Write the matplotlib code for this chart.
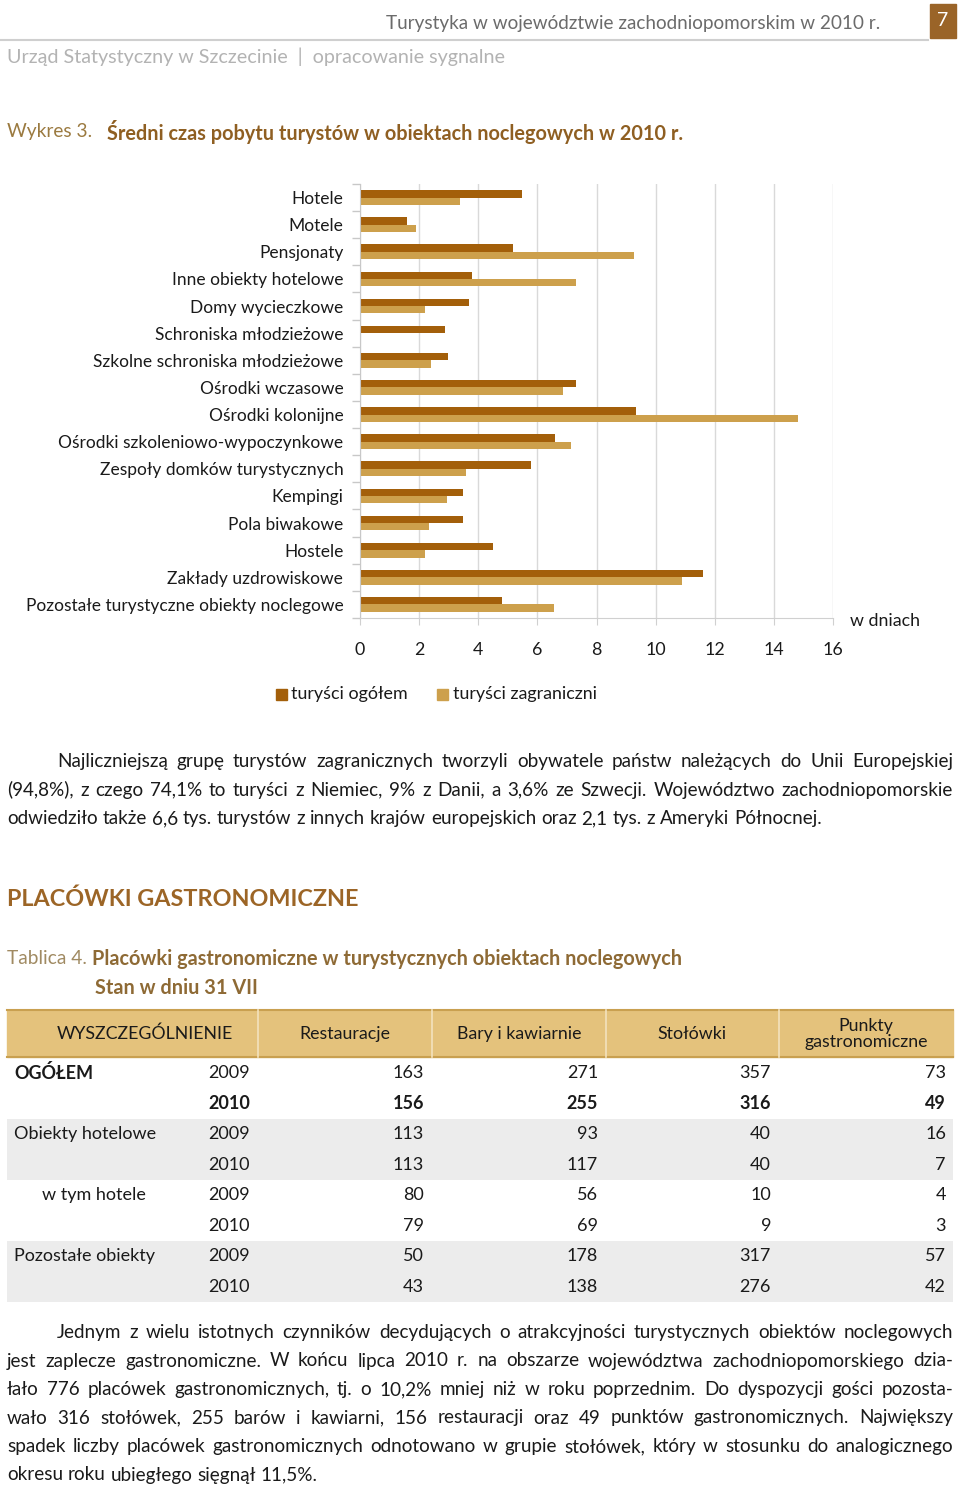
import numpy as np
import matplotlib
matplotlib.use("Agg")
import matplotlib.pyplot as plt
from matplotlib.patches import Rectangle

plt.rcParams['font.family'] = ['Lato', 'DejaVu Sans']

# dane wykresu
kategorie = ["Hotele", "Motele", "Pensjonaty", "Inne obiekty hotelowe", "Domy wycieczkowe",
             "Schroniska młodzieżowe", "Szkolne schroniska młodzieżowe", "Ośrodki wczasowe",
             "Ośrodki kolonijne", "Ośrodki szkoleniowo-wypoczynkowe", "Zespoły domków turystycznych",
             "Kempingi", "Pola biwakowe", "Hostele", "Zakłady uzdrowiskowe",
             "Pozostałe turystyczne obiekty noclegowe"]
turysci_ogolem = [5.48, 1.59, 5.19, 3.78, 3.68, 2.89, 2.98, 7.29, 9.34, 6.60, 5.80, 3.50, 3.50, 4.50, 11.60, 4.80]
turysci_zagr = [3.39, 1.88, 9.28, 7.29, 2.19, np.nan, 2.39, 6.88, 14.80, 7.15, 3.59, 2.95, 2.34, 2.19, 10.90, 6.56]
x_ticks = [0, 2, 4, 6, 8, 10, 12, 14, 16]

# dane tablicy
kolumny = ["WYSZCZEGÓLNIENIE", "Restauracje", "Bary i kawiarnie", "Stołówki", "Punkty\ngastronomiczne"]
wiersze = ["OGÓŁEM", "", "Obiekty hotelowe", "", "w tym hotele", "", "Pozostałe obiekty", ""]
lata = [2009, 2010, 2009, 2010, 2009, 2010, 2009, 2010]
restauracje = [163, 156, 113, 113, 80, 79, 50, 43]
bary = [271, 255, 93, 117, 56, 69, 178, 138]
stolowki = [357, 316, 40, 40, 10, 9, 317, 276]
punkty = [73, 49, 16, 7, 4, 3, 57, 42]

akapit1 = ["Najliczniejszą grupę turystów zagranicznych tworzyli obywatele państw należących do Unii Europejskiej",
           "(94,8%), z czego 74,1% to turyści z Niemiec, 9% z Danii, a 3,6% ze Szwecji. Województwo zachodniopomorskie",
           "odwiedziło także 6,6 tys. turystów z innych krajów europejskich oraz 2,1 tys. z Ameryki Północnej."]
akapit2 = ["Jednym z wielu istotnych czynników decydujących o atrakcyjności turystycznych obiektów noclegowych",
           "jest zaplecze gastronomiczne. W końcu lipca 2010 r. na obszarze województwa zachodniopomorskiego dzia-",
           "łało 776 placówek gastronomicznych, tj. o 10,2% mniej niż w roku poprzednim. Do dyspozycji gości pozosta-",
           "wało 316 stołówek, 255 barów i kawiarni, 156 restauracji oraz 49 punktów gastronomicznych. Największy",
           "spadek liczby placówek gastronomicznych odnotowano w grupie stołówek, który w stosunku do analogicznego",
           "okresu roku ubiegłego sięgnął 11,5%."]

C_DARK = '#a35f0a'
C_LIGHT = '#cda04c'
C_BROWN = '#8f5f22'
C_TXT = '#1a1a1a'

W, H = 960, 1488
fig = plt.figure(figsize=(W / 100, H / 100), dpi=100)

# warstwa z tekstem, współrzędne w pikselach
ov = fig.add_axes([0, 0, 1, 1])
ov.set_xlim(0, W)
ov.set_ylim(H, 0)
ov.axis('off')


def T(x, y, s, **kw):
    kw.setdefault('va', 'center')
    kw.setdefault('color', C_TXT)
    return ov.text(x, y, s, **kw)


# nagłówek strony
T(880, 24, "Turystyka w województwie zachodniopomorskim w 2010 r.", ha='right', fontsize=13.6, color='#6b6b6b')
ov.plot([0, 928], [39.5, 39.5], color='#cfcfcf', lw=1.5)
ov.add_patch(Rectangle((930, 4), 26, 34, color='#9a6428'))
T(943, 20, "7", ha='center', fontsize=14, color='white')
T(7, 57, "Urząd Statystyczny w Szczecinie  |  opracowanie sygnalne", fontsize=14.2, color='#b3b3b3')

T(7, 132, "Wykres 3.", fontsize=13.8, color='#9b7a40')
T(107, 132, "Średni czas pobytu turystów w obiektach noclegowych w 2010 r.", fontsize=14.3,
  color=C_BROWN, fontweight='bold')

# wykres słupkowy
ax = fig.add_axes([360 / W, 1 - 618 / H, 473 / W, 434 / H])
y = np.arange(len(kategorie))
h = 0.27
ax.barh(y - h / 2, turysci_ogolem, height=h, color=C_DARK, label="turyści ogółem")
ax.barh(y + h / 2, turysci_zagr, height=h, color=C_LIGHT, label="turyści zagraniczni")
ax.set_ylim(len(kategorie) - 0.5, -0.5)
ax.set_xlim(0, 16)
ax.set_xticks(x_ticks)
ax.set_xticklabels([str(v) for v in x_ticks], fontsize=12.8, color=C_TXT)
ax.set_yticks(y)
ax.set_yticklabels(kategorie, fontsize=12.5, color=C_TXT)
ax.set_yticks(np.arange(-0.5, len(kategorie), 1), minor=True)
ax.tick_params(axis='y', which='major', length=0, pad=12)
ax.tick_params(axis='y', which='minor', length=6, color='#c8c8c8', width=1)
ax.tick_params(axis='x', length=5, color='#d0d0d0', pad=12)
ax.grid(axis='x', color='#d9d9d9', lw=1)
ax.set_axisbelow(True)
for s in ['top', 'right']:
    ax.spines[s].set_visible(False)
ax.spines['left'].set_color('#c8c8c8')
ax.spines['bottom'].set_color('#d0d0d0')
T(850, 621, "w dniach", fontsize=12.8)

# legenda
ov.add_patch(Rectangle((276, 689), 11, 11, color=C_DARK))
T(291, 694, "turyści ogółem", fontsize=12.9)
ov.add_patch(Rectangle((437, 689), 11, 11, color=C_LIGHT))
T(453, 694, "turyści zagraniczni", fontsize=12.9)

renderer = fig.canvas.get_renderer()


def justify(lines, x0, x1, y0, dy, indent, size):
    sp = T(0, 0, "a b", fontsize=size)
    sp2 = T(0, 0, "ab", fontsize=size)
    space = sp.get_window_extent(renderer).width - sp2.get_window_extent(renderer).width
    sp.remove()
    sp2.remove()
    for i, line in enumerate(lines):
        xs = x0 + (indent if i == 0 else 0)
        words = line.split(' ')
        last = i == len(lines) - 1
        texts = [T(0, y0 + i * dy + 6, w, fontsize=size, va='baseline') for w in words]
        widths = [t.get_window_extent(renderer).width for t in texts]
        if last or len(words) < 2:
            gap = space
        else:
            gap = (x1 - xs - sum(widths)) / (len(words) - 1)
        x = xs
        for t, w in zip(texts, widths):
            t.set_x(x)
            x += w + gap


justify(akapit1, 7, 953, 761, 28.6, 50, 13.6)

T(7, 899, "PLACÓWKI GASTRONOMICZNE", fontsize=16.8, fontweight='bold', color='#9c6526')
T(7, 959, "Tablica 4.", fontsize=13.8, color='#a08a62')
T(92, 959, "Placówki gastronomiczne w turystycznych obiektach noclegowych", fontsize=14.3,
  fontweight='bold', color='#8e6a35')
T(95, 988, "Stan w dniu 31 VII", fontsize=14.3, fontweight='bold', color='#8e6a35')

# tablica
col_x = [7, 258, 432, 606, 779, 953]
ov.add_patch(Rectangle((7, 1010), 946, 47, color='#e4c27c'))
ov.plot([7, 953], [1010, 1010], color='#c9a050', lw=1.5)
ov.plot([7, 953], [1057, 1057], color='#c9a050', lw=1.5)
for cx in col_x[1:-1]:
    ov.plot([cx, cx], [1010, 1057], color='#f3e2bd', lw=1.2)
hdr_cx = [145, 345, 519, 692, 866]
for cx, k in zip(hdr_cx, kolumny):
    T(cx, 1034, k, ha='center', fontsize=12.8, linespacing=1.0)

row_h = 30.5
top = 1058
for i in range(len(wiersze)):
    yc = top + row_h * (i + 0.5)
    if i in (2, 3, 6, 7):
        ov.add_patch(Rectangle((7, top + row_h * i), 946, row_h, color='#ececec', lw=0))
    bold = 'bold' if i == 1 else 'normal'
    lab = wiersze[i]
    if lab:
        lx = 42 if lab == "w tym hotele" else 14
        T(lx, yc, lab, fontsize=13, fontweight='bold' if i == 0 else 'normal')
    T(250, yc, str(lata[i]), ha='right', fontsize=13, fontweight=bold)
    for xr, vals in zip([424, 598, 771, 946], [restauracje, bary, stolowki, punkty]):
        T(xr, yc, str(vals[i]), ha='right', fontsize=13, fontweight=bold)

justify(akapit2, 7, 953, 1332, 28.5, 50, 13.6)

fig.savefig("out.png", dpi=100)
